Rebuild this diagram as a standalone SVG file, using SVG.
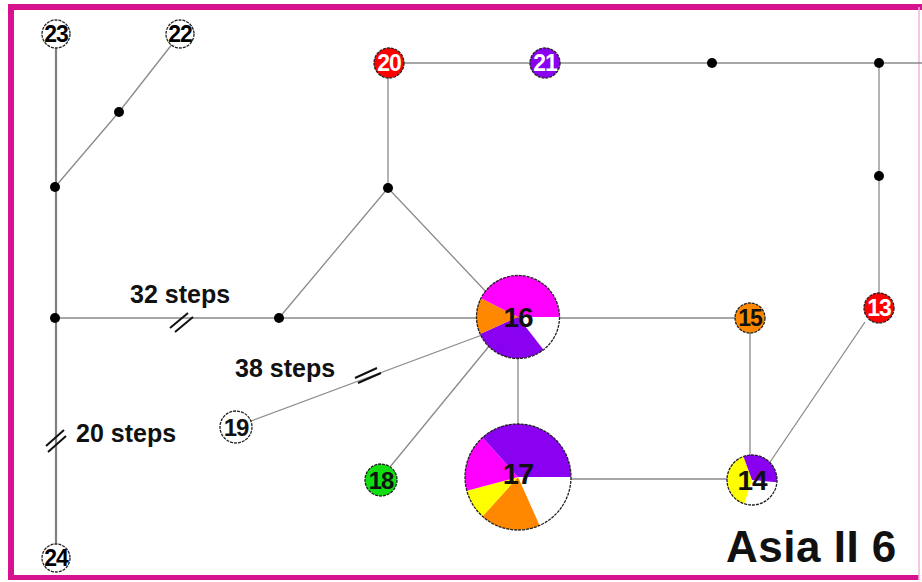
<svg xmlns="http://www.w3.org/2000/svg" width="922" height="582" viewBox="0 0 922 582">
<style>
.ln{stroke:#8a8a8a;stroke-width:1.3;fill:none}
.thick{stroke:#808080;stroke-width:2.2;fill:none}
.sl{stroke:#111;stroke-width:2;fill:none}
.dot{fill:#000}
.nd{stroke:#222;stroke-width:1.3;stroke-dasharray:3 1}
.t{font-family:"Liberation Sans",Arial,sans-serif;font-weight:bold;text-anchor:middle;dominant-baseline:central;letter-spacing:-1px}
.lbl{font-family:"Liberation Sans",Arial,sans-serif;font-weight:bold;font-size:25px;fill:#111}
.w{fill:#fff}.m{fill:#ff00ff}.p{fill:#8a00f0}.o{fill:#ff8800}.y{fill:#ffff00}.r{fill:#ff0000}.g{fill:#11dd11}
</style>
<rect width="922" height="582" fill="#fff"/>
<g id="frame">
<path d="M11,580 V7 H922" fill="none" stroke="#d6128e" stroke-width="6"/>
<path d="M8,577.5 H919" fill="none" stroke="#d6128e" stroke-width="5"/>
<path d="M919,7 V580" fill="none" stroke="#f2b4dc" stroke-width="1.5"/>
</g>
<g id="connectors">
<path class="thick" d="M56,44 V546"/>
<path class="ln" d="M173,43 L119,112 L55,187"/>
<path class="ln" d="M55,318 H750"/>
<path class="ln" d="M279,318 L388,188 L490,296"/>
<path class="ln" d="M388,188 V63"/>
<path class="ln" d="M389,63 H922"/>
<path class="ln" d="M879,63 V308"/>
<path class="ln" d="M865,322 L768,465"/>
<path class="ln" d="M750,318 V455"/>
<path class="ln" d="M518,358 V425"/>
<path class="ln" d="M571,479 H727"/>
<path class="ln" d="M251,421 L482,335"/>
<path class="ln" d="M390,467 L490,345"/>
<path class="sl" d="M170,328 L188,313 M175,332 L193,317"/>
<path class="sl" d="M355,378 L377,368 M358,383 L381,373"/>
<path class="sl" d="M46,446 L64,430 M48,452 L66,436"/>
</g>
<g id="labels">
<text class="lbl" x="130" y="303">32 steps</text>
<text class="lbl" x="235" y="377">38 steps</text>
<text class="lbl" x="76" y="442">20 steps</text>
<text x="726" y="562" style="font-family:'Liberation Sans',Arial,sans-serif;font-weight:bold;font-size:44px;letter-spacing:0.5px;fill:#111">Asia II 6</text>
</g>
<g id="dots">
<circle class="dot" cx="119" cy="112" r="5"/>
<circle class="dot" cx="55" cy="187" r="5"/>
<circle class="dot" cx="55" cy="318" r="5"/>
<circle class="dot" cx="279" cy="318" r="5"/>
<circle class="dot" cx="388" cy="188" r="5"/>
<circle class="dot" cx="712" cy="63" r="5"/>
<circle class="dot" cx="879" cy="63" r="5"/>
<circle class="dot" cx="879" cy="176" r="5"/>
</g>
<g id="n23"><circle class="nd w" cx="56" cy="34" r="14"/><text class="t" x="56" y="34" font-size="23">23</text></g>
<g id="n22"><circle class="nd w" cx="180" cy="34" r="14"/><text class="t" x="180" y="34" font-size="23">22</text></g>
<g id="n24"><circle class="nd w" cx="56" cy="558" r="14"/><text class="t" x="56" y="558" font-size="23">24</text></g>
<g id="n20"><circle class="nd r" cx="389" cy="63" r="15"/><text class="t" x="389" y="63" font-size="23" fill="#fff">20</text></g>
<g id="n21"><circle class="nd p" cx="545" cy="63" r="15"/><text class="t" x="545" y="63" font-size="23" fill="#fff">21</text></g>
<g id="n13"><circle class="nd r" cx="879" cy="308" r="15"/><text class="t" x="879" y="308" font-size="23" fill="#fff">13</text></g>
<g id="n15"><circle class="nd o" cx="750" cy="318" r="15"/><text class="t" x="750" y="318" font-size="23" fill="#111">15</text></g>
<g id="n18"><circle class="nd g" cx="381" cy="480" r="16"/><text class="t" x="381" y="480" font-size="24" fill="#111">18</text></g>
<g id="n19"><circle class="nd w" cx="236" cy="427" r="16"/><text class="t" x="236" y="427" font-size="24" fill="#111">19</text></g>
<g id="n16">
<path class="w" d="M518,317 L559.5,317 A41.5,41.5 0 0 1 543.5,349.7 Z"/>
<path class="p" d="M518,317 L543.5,349.7 A41.5,41.5 0 0 1 480.1,333.9 Z"/>
<path class="o" d="M518,317 L480.1,333.9 A41.5,41.5 0 0 1 481,298.2 Z"/>
<path class="m" d="M518,317 L481,298.2 A41.5,41.5 0 0 1 559.5,317 Z"/>
<circle class="nd" cx="518" cy="317" r="41.5" fill="none"/>
<text class="t" x="518" y="317" font-size="28" fill="#111">16</text>
</g>
<g id="n17">
<path class="w" d="M518,477 L571,477 A53,53 0 0 1 539.6,525.4 Z"/>
<path class="o" d="M518,477 L539.6,525.4 A53,53 0 0 1 482.5,516.4 Z"/>
<path class="y" d="M518,477 L482.5,516.4 A53,53 0 0 1 466.8,490.7 Z"/>
<path class="m" d="M518,477 L466.8,490.7 A53,53 0 0 1 482.5,437.6 Z"/>
<path class="p" d="M518,477 L482.5,437.6 A53,53 0 0 1 571,477 Z"/>
<circle class="nd" cx="518" cy="477" r="53" fill="none"/>
<text class="t" x="518" y="474" font-size="29" fill="#111">17</text>
</g>
<g id="n14">
<path class="w" d="M752,480 L776.9,482.2 A25,25 0 0 1 744.3,503.8 Z"/>
<path class="y" d="M752,480 L744.3,503.8 A25,25 0 0 1 743.45,456.5 Z"/>
<path class="p" d="M752,480 L743.45,456.5 A25,25 0 0 1 776.9,482.2 Z"/>
<circle class="nd" cx="752" cy="480" r="25" fill="none"/>
<text class="t" x="752" y="480" font-size="28" fill="#111">14</text>
</g>
</svg>
